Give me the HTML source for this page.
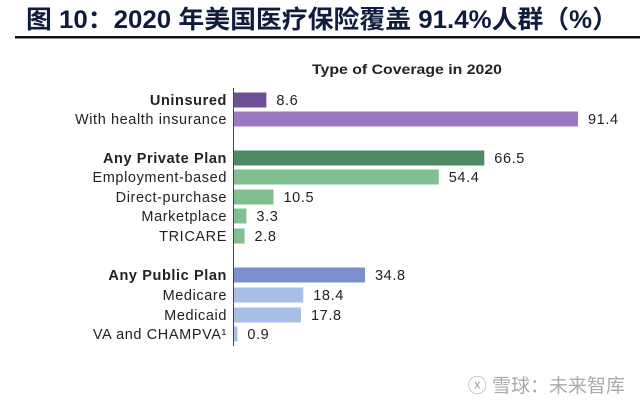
<!DOCTYPE html>
<html><head><meta charset="utf-8"><style>
html,body{margin:0;padding:0;background:#fff;width:640px;height:407px;overflow:hidden}
svg{display:block}
text{font-family:"Liberation Sans","Noto Sans CJK SC",sans-serif}
</style></head><body>
<svg width="640" height="407" viewBox="0 0 640 407">
<text x="26" y="28" textLength="592" lengthAdjust="spacingAndGlyphs" font-size="25" font-weight="bold" fill="#0f1c3c">图 10：2020 年美国医疗保险覆盖 91.4%人群（%）</text>
<rect x="15" y="36" width="625" height="2.5" fill="#111"/>
<text x="312" y="74" textLength="190" lengthAdjust="spacingAndGlyphs" font-size="14" font-weight="bold" fill="#222">Type of Coverage in 2020</text>
<line x1="233.5" y1="88" x2="233.5" y2="346" stroke="#444" stroke-width="1"/>
<g id="bars"></g>
<text x="625" y="392" text-anchor="end" font-size="19" fill="#aaa">ⓧ 雪球：未来智库</text>
</svg>
<script>
const categories=["Uninsured","With health insurance","Any Private Plan","Employment-based","Direct-purchase","Marketplace","TRICARE","Any Public Plan","Medicare","Medicaid","VA and CHAMPVA¹"];
const values=[8.6,91.4,66.5,54.4,10.5,3.3,2.8,34.8,18.4,17.8,0.9];
const bold=[true,false,true,false,false,false,false,true,false,false,false];
const colors=["#6f4f94","#9b79c1","#4e8a63","#7fbf90","#7fbf90","#7fbf90","#7fbf90","#7b8fce","#a8bde8","#a8bde8","#a8bde8"];
const rowY=[100,119,158,177,197,216,236,275,295,315,334];
const x=v=>234+v*3.764;
const g=document.getElementById('bars');
const ns="http://www.w3.org/2000/svg";
categories.forEach((c,i)=>{
 const r=document.createElementNS(ns,'rect');
 r.setAttribute('x',234);r.setAttribute('y',rowY[i]-7.5);
 r.setAttribute('width',x(values[i])-234);r.setAttribute('height',15);
 r.setAttribute('fill',colors[i]);
 
 
 g.appendChild(r);
 const l=document.createElementNS(ns,'text');
 l.setAttribute('x',227);l.setAttribute('y',rowY[i]+5);
 l.setAttribute('text-anchor','end');l.setAttribute('font-size','14.5');
 l.setAttribute('letter-spacing','0.6');
 l.setAttribute('fill','#222');
 if(bold[i])l.setAttribute('font-weight','bold');
 l.textContent=c;
 
 
 g.appendChild(l);
 const v=document.createElementNS(ns,'text');
 v.setAttribute('x',x(values[i])+10);v.setAttribute('y',rowY[i]+5);
 v.setAttribute('font-size','14.5');v.setAttribute('fill','#222');
 v.setAttribute('letter-spacing','0.6');
 v.textContent=values[i].toFixed(1);
 
 
 g.appendChild(v);
});
</script>
</body></html>
